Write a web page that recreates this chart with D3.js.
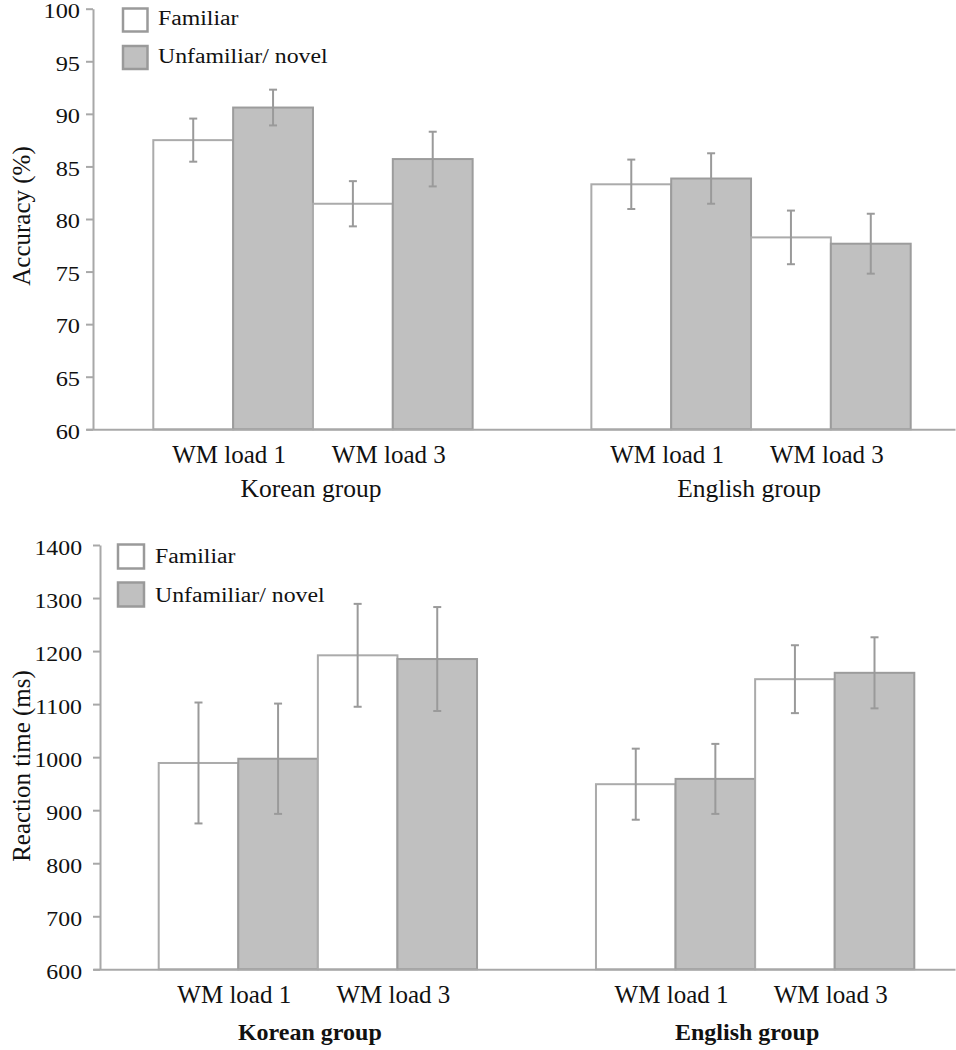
<!DOCTYPE html>
<html>
<head>
<meta charset="utf-8">
<script src="https://cdn.jsdelivr.net/npm/d3@7"></script>
<style>
  html, body { margin: 0; padding: 0; background: #fff; }
  svg { display: block; }
  text { font-family: "Liberation Serif", "Times New Roman", serif; fill: #111; }
</style>
</head>
<body>
<svg id="chart" width="956" height="1050"></svg>
<script>
// ---------- data ----------
const groups = ["Korean group", "English group"];
const loads = ["WM load 1", "WM load 3"];
const seriesNames = ["Familiar", "Unfamiliar/ novel"];

// order: Korean WM1, Korean WM3, English WM1, English WM3
const accFamiliar    = [87.5, 81.45, 83.3, 78.25];
const accFamiliarErr = [2.05, 2.15, 2.35, 2.55];
const accNovel       = [90.6, 85.7, 83.85, 77.65];
const accNovelErr    = [1.7, 2.6, 2.4, 2.85];

const rtFamiliar    = [989, 1192, 949, 1147];
const rtFamiliarErr = [114, 97, 67, 64];
const rtNovel       = [997, 1185, 959, 1159];
const rtNovelErr    = [104, 98, 66, 67];

const accTicks = [60, 65, 70, 75, 80, 85, 90, 95, 100];
const rtTicks = [600, 700, 800, 900, 1000, 1100, 1200, 1300, 1400];

const accTitle = "Accuracy (%)";
const rtTitle = "Reaction time (ms)";

// ---------- drawing ----------
const svg = d3.select("#chart");
const TEXT_STRETCH = 1.16;
const SERIF = "'Liberation Serif', 'Times New Roman', serif";

function buildRows(fam, famErr, nov, novErr) {
  const rows = [];
  let i = 0;
  groups.forEach(g => {
    loads.forEach(l => {
      rows.push({group: g, load: l, series: seriesNames[0], value: fam[i], err: famErr[i]});
      rows.push({group: g, load: l, series: seriesNames[1], value: nov[i], err: novErr[i]});
      i++;
    });
  });
  return rows;
}

function drawPanel(cfg) {
  const g = svg.append("g");
  const y = d3.scaleLinear().domain(cfg.domain).range([cfg.yBottom, cfg.yTop]);
  const x0 = d3.scaleBand().domain(groups).range([cfg.barsLeft, cfg.barsRight])
    .paddingInner(cfg.groupGap).paddingOuter(0);
  const innerKeys = [];
  loads.forEach(l => seriesNames.forEach(s => innerKeys.push(l + "|" + s)));
  const x1 = d3.scaleBand().domain(innerKeys).range([0, x0.bandwidth()]).padding(0);
  const xLoad = d3.scaleBand().domain(loads).range([0, x0.bandwidth()]).padding(0);

  // bars
  const rows = cfg.rows;
  g.selectAll("rect.bar").data(rows).join("rect")
    .attr("class", "bar")
    .attr("x", d => x0(d.group) + x1(d.load + "|" + d.series))
    .attr("y", d => y(d.value))
    .attr("width", x1.bandwidth())
    .attr("height", d => y(cfg.domain[0]) - y(d.value))
    .attr("fill", d => d.series === seriesNames[0] ? "#ffffff" : "#c0c0c0")
    .attr("stroke", d => d.series === seriesNames[0] ? "#ababab" : "#9c9c9c")
    .attr("stroke-width", 2);

  // error bars
  const cap = 4;
  const eg = g.selectAll("g.err").data(rows).join("g").attr("class", "err")
    .attr("transform", d => `translate(${x0(d.group) + x1(d.load + "|" + d.series) + x1.bandwidth() / 2},0)`);
  eg.append("line").attr("x1", 0).attr("x2", 0)
    .attr("y1", d => y(d.value + d.err)).attr("y2", d => y(d.value - d.err))
    .attr("stroke", "#9a9a9a").attr("stroke-width", 2);
  eg.append("line").attr("x1", -cap).attr("x2", cap)
    .attr("y1", d => y(d.value + d.err)).attr("y2", d => y(d.value + d.err))
    .attr("stroke", "#9a9a9a").attr("stroke-width", 2);
  eg.append("line").attr("x1", -cap).attr("x2", cap)
    .attr("y1", d => y(d.value - d.err)).attr("y2", d => y(d.value - d.err))
    .attr("stroke", "#9a9a9a").attr("stroke-width", 2);

  // y axis
  const yAxis = d3.axisLeft(y).tickValues(cfg.ticks).tickFormat(d3.format("d"))
    .tickSize(7).tickSizeOuter(0).tickPadding(cfg.tickPad);
  const ya = g.append("g").attr("transform", `translate(${cfg.axisX},0)`).call(yAxis)
    .attr("font-family", SERIF);
  ya.select(".domain").attr("stroke", "#a8a8a8").attr("stroke-width", 2);
  ya.selectAll(".tick line").attr("stroke", "#a8a8a8").attr("stroke-width", 2);
  ya.selectAll(".tick text")
    .attr("font-size", cfg.tickFont)
    .attr("font-weight", cfg.tickWeight)
    .attr("font-family", SERIF)
    .attr("fill", "#111")
    .attr("dy", cfg.tickDy)
    .attr("x", -(7 + cfg.tickPad) / TEXT_STRETCH)
    .attr("transform", `scale(${TEXT_STRETCH},1)`);

  // x baseline
  const xBase = d3.axisBottom(d3.scaleLinear().domain([0, 1]).range([cfg.axisX - 7, 955]))
    .tickValues([]).tickSizeOuter(0);
  const xa = g.append("g").attr("transform", `translate(0,${y(cfg.domain[0])})`).call(xBase);
  xa.select(".domain").attr("stroke", "#a8a8a8").attr("stroke-width", 2);

  // category labels
  groups.forEach(gr => {
    loads.forEach(l => {
      g.append("text")
        .attr("x", x0(gr) + xLoad(l) + xLoad.bandwidth() / 2 + cfg.loadShift)
        .attr("y", cfg.loadBaseline)
        .attr("text-anchor", "middle")
        .attr("font-family", SERIF)
        .attr("font-size", cfg.loadFont)
        .text(l);
    });
    g.append("text")
      .attr("x", x0(gr) + x0.bandwidth() / 2 + cfg.groupShift)
      .attr("y", cfg.groupBaseline)
      .attr("text-anchor", "middle")
      .attr("font-family", SERIF)
      .attr("font-size", cfg.groupFont)
      .attr("font-weight", cfg.groupWeight)
      .text(gr);
  });

  // y title
  g.append("text")
    .attr("transform", `translate(${cfg.titleX},${cfg.titleY}) rotate(-90)`)
    .attr("text-anchor", "middle")
    .attr("font-family", SERIF)
    .attr("font-size", cfg.titleFont)
    .text(cfg.title);

  // legend
  seriesNames.forEach((s, i) => {
    const ly = cfg.legendY[i];
    g.append("rect")
      .attr("x", cfg.legendX).attr("y", ly)
      .attr("width", cfg.legendBox).attr("height", cfg.legendBoxH)
      .attr("fill", i === 0 ? "#ffffff" : "#c0c0c0")
      .attr("stroke", "#9a9a9a").attr("stroke-width", 2.5);
    g.append("text")
      .attr("transform", `translate(${cfg.legendTextX},${cfg.legendBase[i]}) scale(${TEXT_STRETCH},1)`)
      .attr("font-family", SERIF)
      .attr("font-size", cfg.legendFont)
      .text(s);
  });
}

drawPanel({
  rows: buildRows(accFamiliar, accFamiliarErr, accNovel, accNovelErr),
  domain: [60, 100], ticks: accTicks,
  yTop: 8.7, yBottom: 429.3,
  axisX: 93, barsLeft: 153.3, barsRight: 910.7, groupGap: 0.271,
  tickFont: 21, tickWeight: "normal", tickPad: 6, tickDy: "0.42em",
  loadFont: 25, loadBaseline: 463, loadShift: -4,
  groupFont: 25.5, groupWeight: "normal", groupBaseline: 497, groupShift: -2,
  title: accTitle, titleX: 30, titleY: 216, titleFont: 25,
  legendX: 123, legendY: [8.5, 46], legendBox: 24.5, legendBoxH: 23,
  legendTextX: 158, legendBase: [25, 63], legendFont: 20.5
});

drawPanel({
  rows: buildRows(rtFamiliar, rtFamiliarErr, rtNovel, rtNovelErr),
  domain: [600, 1400], ticks: rtTicks,
  yTop: 545, yBottom: 969.3,
  axisX: 100, barsLeft: 158.7, barsRight: 914.3, groupGap: 0.272,
  tickFont: 20.5, tickWeight: "normal", tickPad: 11, tickDy: "0.46em",
  loadFont: 25, loadBaseline: 1003, loadShift: -4,
  groupFont: 24, groupWeight: "bold", groupBaseline: 1040, groupShift: -8,
  title: rtTitle, titleX: 30, titleY: 766, titleFont: 25,
  legendX: 118, legendY: [544.5, 582.5], legendBox: 26, legendBoxH: 24,
  legendTextX: 155, legendBase: [563, 602], legendFont: 20.5
});
</script>
</body>
</html>
